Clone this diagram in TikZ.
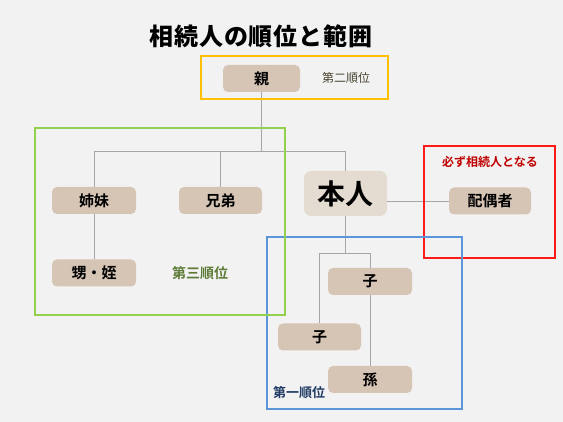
\documentclass[tikz,border=0pt]{standalone}
\usepackage{fontspec}
\setmainfont{Noto Sans CJK JP}[BoldFont={Noto Sans CJK JP Bold}]
\newfontfamily\titlefont{Noto Sans CJK JP Black}[LetterSpace=4]
\begin{document}
\begin{tikzpicture}[x=1pt,y=-1pt,
  kin/.style={fill=nodefill, rounded corners=5pt, inner sep=0pt, minimum width=84pt, minimum height=27pt, font=\fontsize{15}{15}\selectfont\bfseries},
  conn/.style={draw=connc, line width=0.8pt},
  frame/.style={line width=1.5pt}]
\definecolor{bg}{HTML}{F2F2F2}
\definecolor{nodefill}{HTML}{D6C4B5}
\definecolor{selffill}{HTML}{E4DCD1}
\definecolor{connc}{HTML}{A6A6A6}
\definecolor{orangec}{HTML}{FFC000}
\definecolor{greenc}{HTML}{92D050}
\definecolor{redc}{HTML}{FF1A1A}
\definecolor{bluec}{HTML}{5B96D8}
\definecolor{t2}{HTML}{4A4632}
\definecolor{t3}{HTML}{5E7B38}
\definecolor{t1}{HTML}{1F3A64}
\definecolor{tr}{HTML}{C00000}
\useasboundingbox (0,0) rectangle (563,422);
\fill[bg] (0,0) rectangle (563,422);
\node (title) at (261,36) {\fontsize{24}{24}\selectfont\titlefont 相続人の順位と範囲};
% nodes
\node[kin, minimum width=77pt] (oya) at (261.5,78.5) {親};
\node[text=t2, font=\fontsize{12}{12}\selectfont] (l2) at (346,78) {第二順位};
\node[kin] (shimai) at (94,200.5) {姉妹};
\node[kin, minimum width=83pt] (kyodai) at (220.5,200.5) {兄弟};
\node[kin] (oi) at (94,273) {甥・姪};
\node[text=t3, font=\fontsize{14}{14}\selectfont\bfseries] (l3) at (200,273) {第三順位};
\node[fill=selffill, rounded corners=7pt, inner sep=0pt, minimum width=83pt, minimum height=45pt, font=\fontsize{28}{28}\selectfont\bfseries] (hon) at (345.5,193.5) {本人};
\node[text=tr, font=\fontsize{12}{12}\selectfont\bfseries] (lr) at (490,162) {必ず相続人となる};
\node[kin, minimum width=82pt] (haigu) at (490,201) {配偶者};
\node[kin] (ko1) at (370,281.5) {子};
\node[kin, minimum width=83pt] (ko2) at (319.5,337) {子};
\node[kin] (mago) at (370,379.5) {孫};
\node[text=t1, font=\fontsize{13}{13}\selectfont\bfseries] (l1) at (299,393) {第一順位};
% connectors
\coordinate (bar) at (0,151);
\coordinate (bar2) at (0,253);
\draw[conn] (oya.south) -- (oya.south |- bar);
\draw[conn] (shimai.north) -- (shimai.north |- bar) -- (hon.north |- bar) -- (hon.north);
\draw[conn] (kyodai.north) -- (kyodai.north |- bar);
\draw[conn] (shimai.south) -- (oi.north);
\draw[conn] (hon.east |- haigu.west) -- (haigu.west);
\draw[conn] (hon.south) -- (hon.south |- bar2);
\draw[conn] (ko2.north) -- (ko2.north |- bar2) -- (ko1.north |- bar2) -- (ko1.north);
\draw[conn] (ko1.south) -- (mago.north);
% frames
\draw[frame, orangec] (201,56) rectangle (388,99);
\draw[frame, redc] (424,146) rectangle (555,258);
\draw[frame, bluec] (267,237) rectangle (462,409);
\draw[frame, greenc] (35,128) rectangle (285,315);
\end{tikzpicture}
\end{document}
